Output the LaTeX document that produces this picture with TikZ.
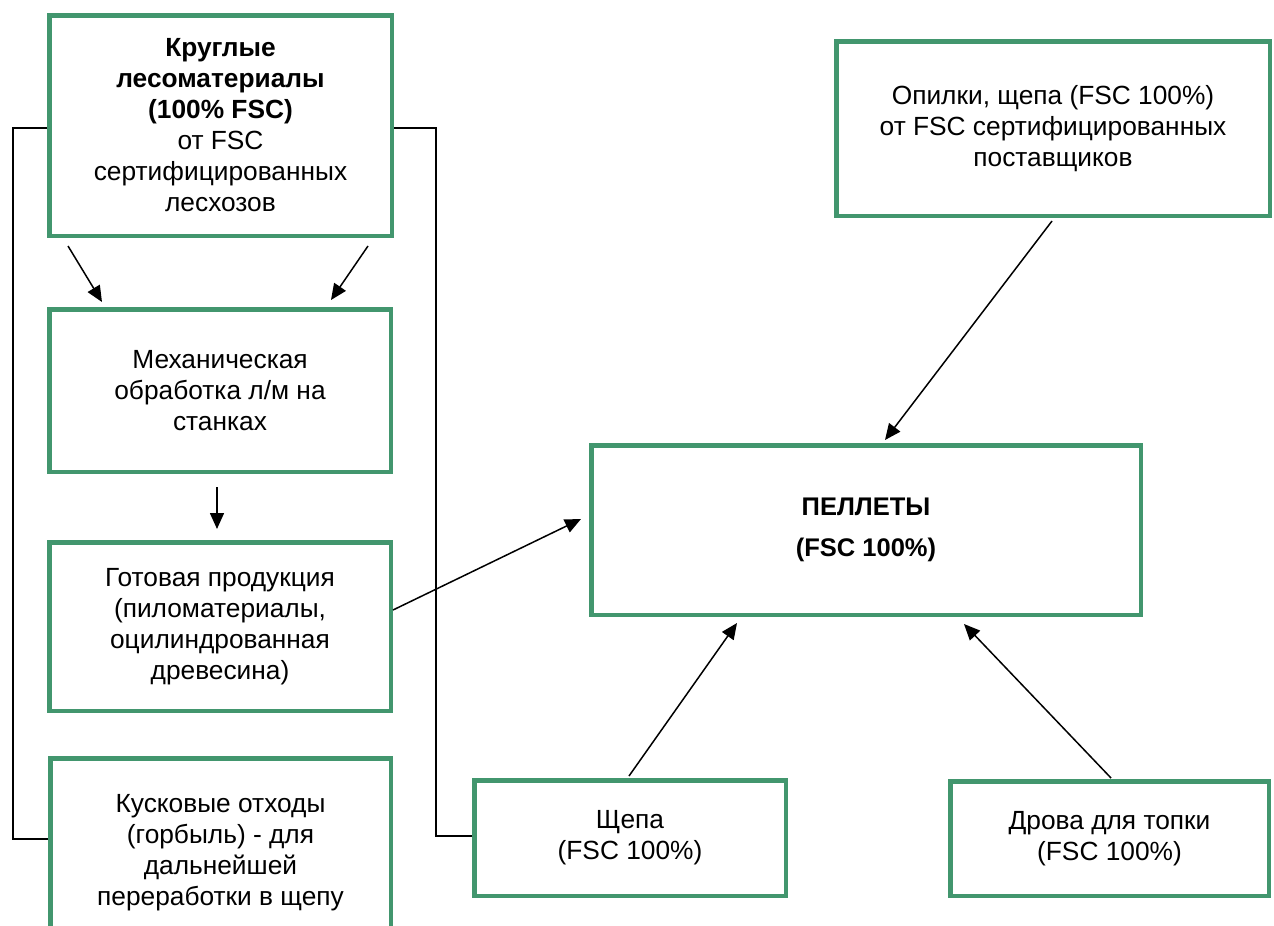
\documentclass[tikz,border=0pt]{standalone}
\usepackage{fontspec}
\setmainfont{Liberation Sans}
\usetikzlibrary{arrows.meta,calc}
\definecolor{boxgreen}{RGB}{66,150,110}
\begin{document}
\begin{tikzpicture}[x=1pt,y=-1pt,
  box/.style={draw=boxgreen,line width=4.5pt,fill=white,align=center,inner sep=0pt,
    font=\fontsize{26.3}{31}\selectfont},
  conn/.style={draw=black,line width=1.5pt},
  arr/.style={draw=black,line width=1.5pt,-{Triangle[length=16pt,width=14pt]}}]
\useasboundingbox (0,0) rectangle (1274,926);
\clip (0,0) rectangle (1274,926);

\node[box,minimum width=342.5pt,minimum height=220.5pt] (A) at (220.5,125.5)
  {\textbf{Круглые}\\\textbf{лесоматериалы}\\\textbf{(100\% FSC)}\\от FSC\\сертифицированных\\лесхозов};
\node[box,minimum width=341.5pt,minimum height=162.5pt] (B) at (220,390.5)
  {Механическая\\обработка л/м на\\станках};
\node[box,minimum width=341.5pt,minimum height=168.5pt] (C) at (220,626.5)
  {Готовая продукция\\(пиломатериалы,\\оцилиндрованная\\древесина)};
\node[box,minimum width=340.5pt,minimum height=189.5pt] (E) at (220.5,853)
  {Кусковые отходы\\(горбыль) - для\\дальнейшей\\переработки в щепу};
\node[box,minimum width=549.5pt,minimum height=169.5pt,
  font=\fontsize{25.5}{41}\selectfont\bfseries] (P) at (866,530)
  {ПЕЛЛЕТЫ\\(FSC 100\%)};
\node[box,minimum width=433.5pt,minimum height=174.5pt] (O) at (1053,128.5)
  {Опилки, щепа (FSC 100\%)\\от FSC сертифицированных\\поставщиков};
\node[box,minimum width=311.5pt,minimum height=115.5pt] (S) at (630,838)
  {Щепа\\(FSC 100\%)};
\node[box,minimum width=318.5pt,minimum height=114.5pt] (D) at (1109.5,838.5)
  {Дрова для топки\\(FSC 100\%)};

% side connectors
\draw[conn] ($(A.west)+(0,2.5)$) -- (13,128) -- (13,839) -- ($(E.west)+(0,-14)$);
\draw[conn] ($(A.east)+(0,2.5)$) -- (436,128) -- (436,836) -- ($(S.west)+(0,-2)$);

% arrows
\draw[arr] ($(A)+(-152.5,120.5)$) -- ($(B)+(-118,-88.5)$);
\draw[arr] ($(A)+(147.5,120.5)$) -- ($(B)+(111,-90.5)$);
\draw[arr] ($(B)+(-3,96.5)$) -- ($(C)+(-3,-97.5)$);
\draw[arr] ($(C)+(173,-16.5)$) -- ($(P)+(-285,-11)$);
\draw[arr] ($(O)+(-1,92.5)$) -- ($(P)+(19,-90)$);
\draw[arr] ($(S)+(-1,-62)$) -- ($(P)+(-129,93)$);
\draw[arr] ($(D)+(1.5,-60.5)$) -- ($(P)+(98,94)$);
\end{tikzpicture}
\end{document}
